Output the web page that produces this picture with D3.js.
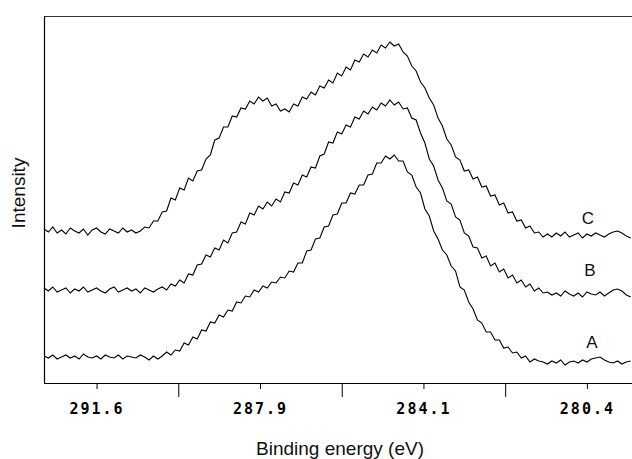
<!DOCTYPE html>
<html>
<head>
<meta charset="utf-8">
<script src="https://cdn.jsdelivr.net/npm/d3@7"></script>
<style>
  body { margin: 0; background: #fff; }
  svg { display: block; }
  .tick text { font-family: "DejaVu Sans Mono", monospace; font-weight: bold; font-size: 15px; letter-spacing: 2px; fill: #000; }
  .tick line { stroke: #000; }
  .title { font-family: "Liberation Sans", Arial, sans-serif; font-size: 19px; fill: #111; }
  .curve-label { font-family: "Liberation Sans", Arial, sans-serif; font-size: 17px; fill: #111; }
</style>
</head>
<body>
<svg width="632" height="459"></svg>
<script>
// binding energy grid, 0.1 eV steps from 292.8 down to 279.4
const energies = d3.range(0, 135).map(i => +(292.8 - i * 0.1).toFixed(1));

const curveA = [
  27,25,28,24,26,28,25,27,24,29,26,25,27,24,28,26,25,28,24,27,26,25,28,26,23,27,24,
  27,31,28,33,32,40,38,46,44,53,52,61,60,68,66,73,72,81,80,87,86,93,91,97,95,101,100,
  106,105,112,111,120,120,132,133,144,145,156,157,168,169,180,180,190,189,198,198,208,
  209,220,220,227,224,228,222,222,211,208,196,190,174,167,152,144,133,128,117,112,96,
  93,81,74,63,60,51,51,43,43,35,36,30,31,25,27,21,24,22,
  21,19,22,20,23,18,21,22,20,23,21,24,25,26,23,21,20,22,19,21,22
];

const curveB = [
  95,92,96,91,93,95,90,94,92,96,91,93,95,92,90,94,96,91,93,95,92,94,90,95,93,91,94,96,
  93,99,97,103,100,109,108,118,119,128,126,135,133,143,140,150,151,161,159,170,168,177,
  174,181,177,184,181,191,190,200,198,208,206,216,215,227,229,241,240,251,249,258,256,
  266,264,272,269,276,273,280,277,283,278,281,274,275,265,263,250,240,224,217,203,195,
  182,179,166,163,150,147,136,135,125,127,117,120,111,114,105,108,100,103,96,99,92,95,90,
  91,88,90,87,92,89,87,90,86,91,89,88,91,87,90,93,94,92,88,86
];

const curveC = [
  154,151,156,150,153,149,155,152,150,154,148,153,155,151,149,154,152,150,155,151,153,150,152,
  156,155,162,162,171,172,185,183,195,193,205,202,212,213,224,228,243,245,256,256,267,266,
  275,274,282,279,286,282,285,277,279,272,274,271,279,277,286,284,291,288,297,295,303,300,
  310,307,316,313,323,321,329,326,333,330,338,335,341,337,339,331,327,317,312,301,295,285,
  278,265,257,244,238,226,223,212,213,204,206,196,197,187,188,178,180,170,171,162,163,155,
  157,150,151,146,
  149,146,150,147,151,146,148,150,145,149,147,150,148,146,149,151,152,150,147,145
];

const seriesNames = ["A", "B", "C"];
const seriesValues = [curveA, curveB, curveC];
const majorTicks = [291.6, 287.8667, 284.1333, 280.4];
const minorTicks = [289.7333, 286.0, 282.2667];

const svg = d3.select("svg");
const plotL = 44, plotR = 632, plotT = 16, plotB = 383;

const x = d3.scaleLinear().domain([292.8, 279.37]).range([plotL, plotR]);
const y = d3.scaleLinear().domain([0, 367]).range([plotB, plotT]);

// frame
svg.append("line").attr("x1", plotL).attr("x2", plotR).attr("y1", plotT + 0.5).attr("y2", plotT + 0.5)
  .attr("stroke", "#333").attr("stroke-width", 1);
svg.append("line").attr("x1", plotL + 0.5).attr("x2", plotL + 0.5).attr("y1", plotT).attr("y2", plotB)
  .attr("stroke", "#000").attr("stroke-width", 1.2);
svg.append("line").attr("x1", plotL).attr("x2", plotR).attr("y1", plotB + 0.5).attr("y2", plotB + 0.5)
  .attr("stroke", "#000").attr("stroke-width", 1.2);

// ticks
svg.append("g")
  .attr("transform", `translate(0,${plotB})`)
  .call(d3.axisBottom(x).tickValues(majorTicks).tickSize(6).tickPadding(14).tickFormat(d3.format(".1f")))
  .call(g => g.select(".domain").remove());
svg.append("g")
  .attr("transform", `translate(0,${plotB})`)
  .call(d3.axisBottom(x).tickValues(minorTicks).tickSize(14).tickFormat(""))
  .call(g => g.select(".domain").remove());

// spectra
const line = d3.line().x((d, i) => x(energies[i])).y(d => y(d));
svg.selectAll("path.curve")
  .data(seriesValues)
  .join("path")
  .attr("class", "curve")
  .attr("fill", "none")
  .attr("stroke", "#000")
  .attr("stroke-width", 1.1)
  .attr("d", line);

// curve labels
const labelPos = [[592, 41], [590, 113], [588, 165]];
svg.selectAll("text.curve-label")
  .data(seriesNames)
  .join("text")
  .attr("class", "curve-label")
  .attr("x", (d, i) => labelPos[i][0])
  .attr("y", (d, i) => y(labelPos[i][1]))
  .attr("text-anchor", "middle")
  .attr("dy", "0.35em")
  .text(d => d);

// axis titles
svg.append("text").attr("class", "title")
  .attr("x", 340).attr("y", 455).attr("text-anchor", "middle")
  .text("Binding energy (eV)");
svg.append("text").attr("class", "title")
  .attr("transform", "translate(25,193) rotate(-90)")
  .attr("text-anchor", "middle")
  .text("Intensity");
</script>
</body>
</html>
